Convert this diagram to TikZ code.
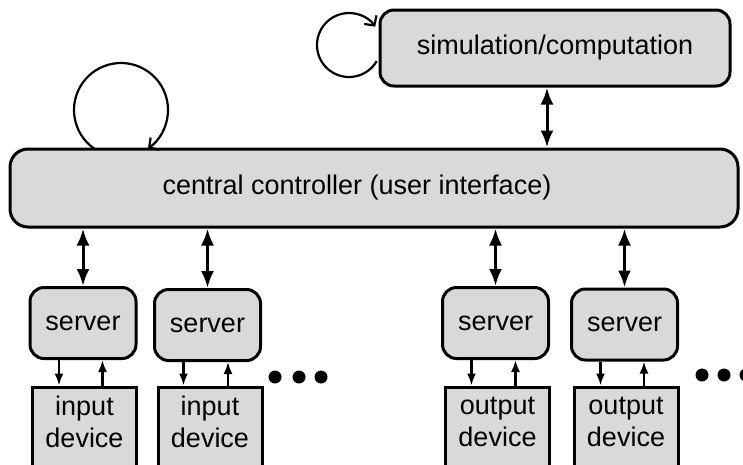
\documentclass[tikz,border=0pt]{standalone}
\usepackage{fontspec}
\setmainfont{Liberation Sans}
\usetikzlibrary{calc,arrows.meta}
\definecolor{boxgray}{gray}{0.85}

\begin{document}
\begin{tikzpicture}[
        %We work in pixels and define some styles
        x=1pt, y=-1pt,
        every node/.style={font=\fontsize{27}{32}\selectfont, inner sep=0pt},
        round box/.style={draw, line width=3pt, fill=boxgray, rounded corners=14pt},
        server box/.style={round box, minimum width=106pt, minimum height=71pt},
        device box/.style={draw, line width=3pt, fill=boxgray,
            minimum width=104pt, minimum height=110pt,
            label={[align=center, yshift=20pt]center:#1}},
        link/.style={line width=3pt, {Latex[length=17pt,width=13pt]}-{Latex[length=17pt,width=13pt]}},
        small link/.style={line width=2.2pt, -{Latex[length=12pt,width=9pt]}},
        self loop/.style={line width=2.2pt, -{Straight Barb[length=7pt,width=15pt]}}
     ]
    \useasboundingbox (0,0) rectangle (743,464);
    \clip (0,0) rectangle (743,464);

    % Important boxes are placed
    \node[round box, minimum width=350pt, minimum height=76pt] (sim) at (555,48) {simulation/computation};
    \node[round box, rounded corners=18pt, minimum width=728pt, minimum height=78pt,
        label={[xshift=-17pt]center:central controller (user interface)}] (ctrl) at (374,188) {};

    % servers
    \node[server box] (s1) at (83,323) {server};
    \node[server box] (s2) at (207.5,325) {server};
    \node[server box] (s3) at (495.5,323) {server};
    \node[server box] (s4) at (624.5,324.5) {server};

    % devices, cut off by the bottom edge
    \node[device box={input\\device}] (d1) at (84.5,442) {};
    \node[device box={input\\device}] (d2) at (210,442) {};
    \node[device box={output\\device}] (d3) at (497.5,442) {};
    \node[device box={output\\device}] (d4) at (626,442) {};

    % links between the boxes
    \draw[link] ([xshift=-8pt]sim.south) -- ([xshift=-8pt]sim.south |- ctrl.north);
    \foreach \s/\d in {s1/d1, s2/d2, s3/d3, s4/d4}
    {
        \draw[link] (\s.north) -- (\s.north |- ctrl.south);
        \draw[small link] ([xshift=-24pt]\s.south) -- ([xshift=-24pt]\s.south |- \d.north);
        \draw[small link] ([xshift=18pt]\d.north) -- ([xshift=18pt]\d.north |- \s.south);
    }

    % the self loops
    \coordinate (simloop) at (349,45);
    \coordinate (ctrlloop) at (121,110);
    \draw[self loop] ($(simloop)+(-30:32pt)$) arc[start angle=-30, end angle=-325, radius=32pt];
    \draw[self loop] ($(ctrlloop)+(-125:47pt)$) arc[start angle=-125, end angle=-415, radius=47pt];

    % more of the same
    \foreach \x in {275,299,321}
        \fill (\x,377) circle (6.5pt);
    \foreach \x in {702,724,746}
        \fill (\x,375) circle (6.5pt);
\end{tikzpicture}
\end{document}
